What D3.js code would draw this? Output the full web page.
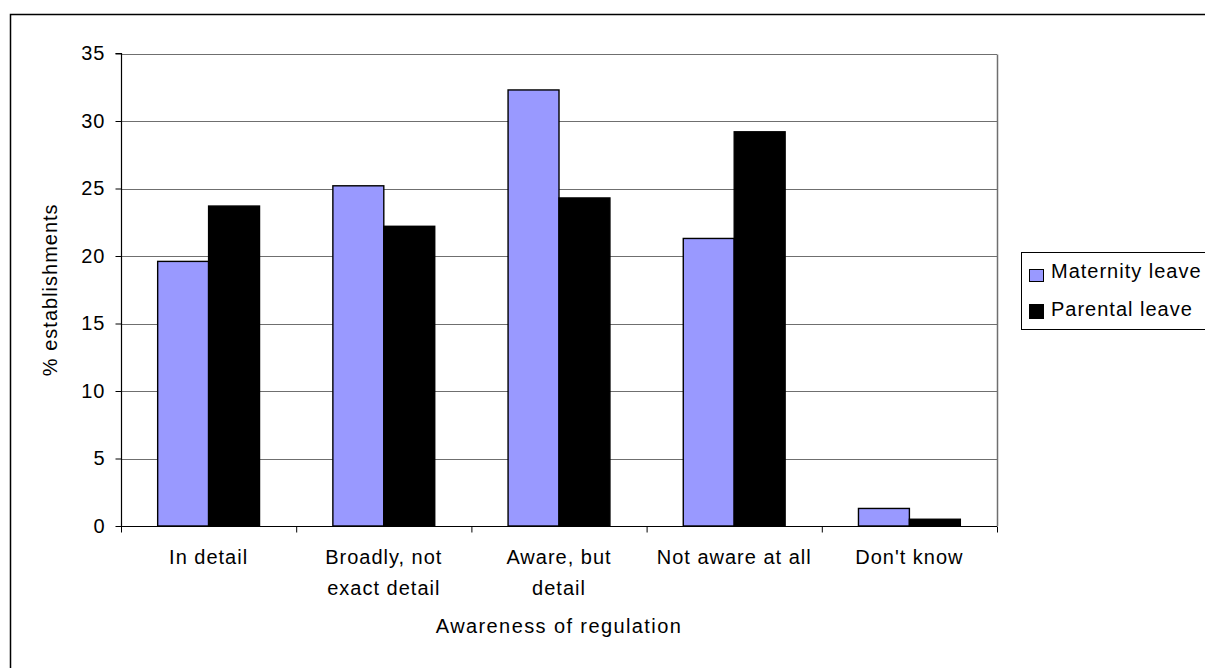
<!DOCTYPE html>
<html>
<head>
<meta charset="utf-8">
<script src="https://cdn.jsdelivr.net/npm/d3@7"></script>
<style>
  html, body { margin: 0; padding: 0; background: #fff; }
  svg { display: block; font-family: "Liberation Sans", Arial, sans-serif; }
</style>
</head>
<body>
<svg id="chart" width="1205" height="668"></svg>
<script>
const categories = [["In detail"], ["Broadly, not", "exact detail"], ["Aware, but", "detail"], ["Not aware at all"], ["Don't know"]];
const seriesNames = ["Maternity leave", "Parental leave"];
const maternity = [19.6, 25.2, 32.3, 21.3, 1.3];
const parental = [23.7, 22.2, 24.3, 29.2, 0.5];
const yTicks = [0, 5, 10, 15, 20, 25, 30, 35];
const colors = ["#9999FF", "#000000"];

const svg = d3.select("#chart");
const catKeys = categories.map(c => c.join(" "));
const values = [maternity, parental];

const plot = {left: 121, right: 997, top: 53.5, bottom: 526};

// outer frame (cropped on right and bottom)
svg.append("rect").attr("x", 10.5).attr("y", 14.5).attr("width", 1300).attr("height", 700)
  .attr("fill", "none").attr("stroke", "#000").attr("stroke-width", 1.5);

const x0 = d3.scaleBand().domain(catKeys).range([plot.left, plot.right]).padding(0);
const x1 = d3.scaleBand().domain(seriesNames).range([0, x0.bandwidth()]).paddingInner(0).paddingOuter(0.72);
const y = d3.scaleLinear().domain([0, 35]).range([plot.bottom, plot.top]);

// gridlines
svg.append("g").selectAll("line").data(yTicks.filter(d => d > 0)).join("line")
  .attr("x1", plot.left).attr("x2", plot.right)
  .attr("y1", d => Math.round(y(d)) + 0.5).attr("y2", d => Math.round(y(d)) + 0.5)
  .attr("stroke", "#6f6f6f").attr("stroke-width", 1.2);
// right border of plot
svg.append("line").attr("x1", plot.right + 0.5).attr("x2", plot.right + 0.5)
  .attr("y1", Math.round(y(35)) + 0.5).attr("y2", plot.bottom)
  .attr("stroke", "#6f6f6f").attr("stroke-width", 1.5);

// bars
const groups = svg.append("g").selectAll("g").data(catKeys).join("g")
  .attr("transform", d => `translate(${x0(d)},0)`);
groups.selectAll("rect").data((d, i) => seriesNames.map((s, j) => ({s, v: values[j][i], j})))
  .join("rect")
  .attr("x", d => x1(d.s))
  .attr("y", d => y(d.v))
  .attr("width", x1.bandwidth())
  .attr("height", d => y(0) - y(d.v))
  .attr("fill", d => colors[d.j])
  .attr("stroke", "#000").attr("stroke-width", 1.4);

// y axis
const yAxis = d3.axisLeft(y).tickValues(yTicks).tickSize(6).tickPadding(10).tickFormat(d3.format("d"));
const gy = svg.append("g").attr("transform", `translate(${plot.left + 0.5},0)`).call(yAxis);
gy.select(".domain").attr("stroke", "#000").attr("stroke-width", 1.2).attr("d", `M-6,${y(35)}H0V${plot.bottom}`);
gy.selectAll(".tick line").attr("stroke", "#000");
gy.selectAll(".tick text").attr("font-size", 20).attr("fill", "#000")
  .attr("font-family", "Liberation Sans, Arial, sans-serif").attr("letter-spacing", 1);

// x axis
const xAxis = d3.axisBottom(x0).tickSize(0).tickFormat("");
const gx = svg.append("g").attr("transform", `translate(0,${plot.bottom + 0.5})`).call(xAxis);
gx.select(".domain").attr("stroke", "#000").attr("stroke-width", 1.2).attr("d", `M${plot.left},0H${plot.right}`);
const boundaries = catKeys.map(k => x0(k)).concat([plot.right]);
gx.append("g").selectAll("line").data(boundaries).join("line")
  .attr("x1", d => d + 0.5).attr("x2", d => d + 0.5).attr("y1", 0).attr("y2", 6)
  .attr("stroke", "#000");

// category labels
const lab = svg.append("g").selectAll("text").data(categories).join("text")
  .attr("text-anchor", "middle").attr("font-size", 20).attr("letter-spacing", 1).attr("fill", "#000")
  .attr("transform", (d, i) => `translate(${x0(catKeys[i]) + x0.bandwidth() / 2},564)`);
lab.selectAll("tspan").data(d => d).join("tspan")
  .attr("x", 0).attr("dy", (d, i) => i === 0 ? 0 : 31).text(d => d);

// axis titles
svg.append("text").attr("x", (plot.left + plot.right) / 2).attr("y", 633)
  .attr("text-anchor", "middle").attr("font-size", 20).attr("letter-spacing", 1.4)
  .text("Awareness of regulation");
svg.append("text").attr("transform", `translate(57,${(plot.top + plot.bottom) / 2}) rotate(-90)`)
  .attr("text-anchor", "middle").attr("font-size", 20).attr("letter-spacing", 1)
  .text("% establishments");

// legend
const lg = svg.append("g");
lg.append("rect").attr("x", 1021.5).attr("y", 252.5).attr("width", 300).attr("height", 77)
  .attr("fill", "#fff").attr("stroke", "#000").attr("stroke-width", 1);
const items = lg.selectAll("g").data(seriesNames).join("g")
  .attr("transform", (d, i) => `translate(1029,${278 + i * 38})`);
items.append("rect").attr("x", 0.5).attr("y", (d, i) => i === 0 ? -8.5 : -11.5)
  .attr("width", 14).attr("height", (d, i) => i === 0 ? 12 : 14)
  .attr("fill", (d, i) => colors[i]).attr("stroke", "#000").attr("stroke-width", 1);
items.append("text").attr("x", 22).attr("y", 0).attr("font-size", 20).attr("letter-spacing", 1)
  .text(d => d);
</script>
</body>
</html>
